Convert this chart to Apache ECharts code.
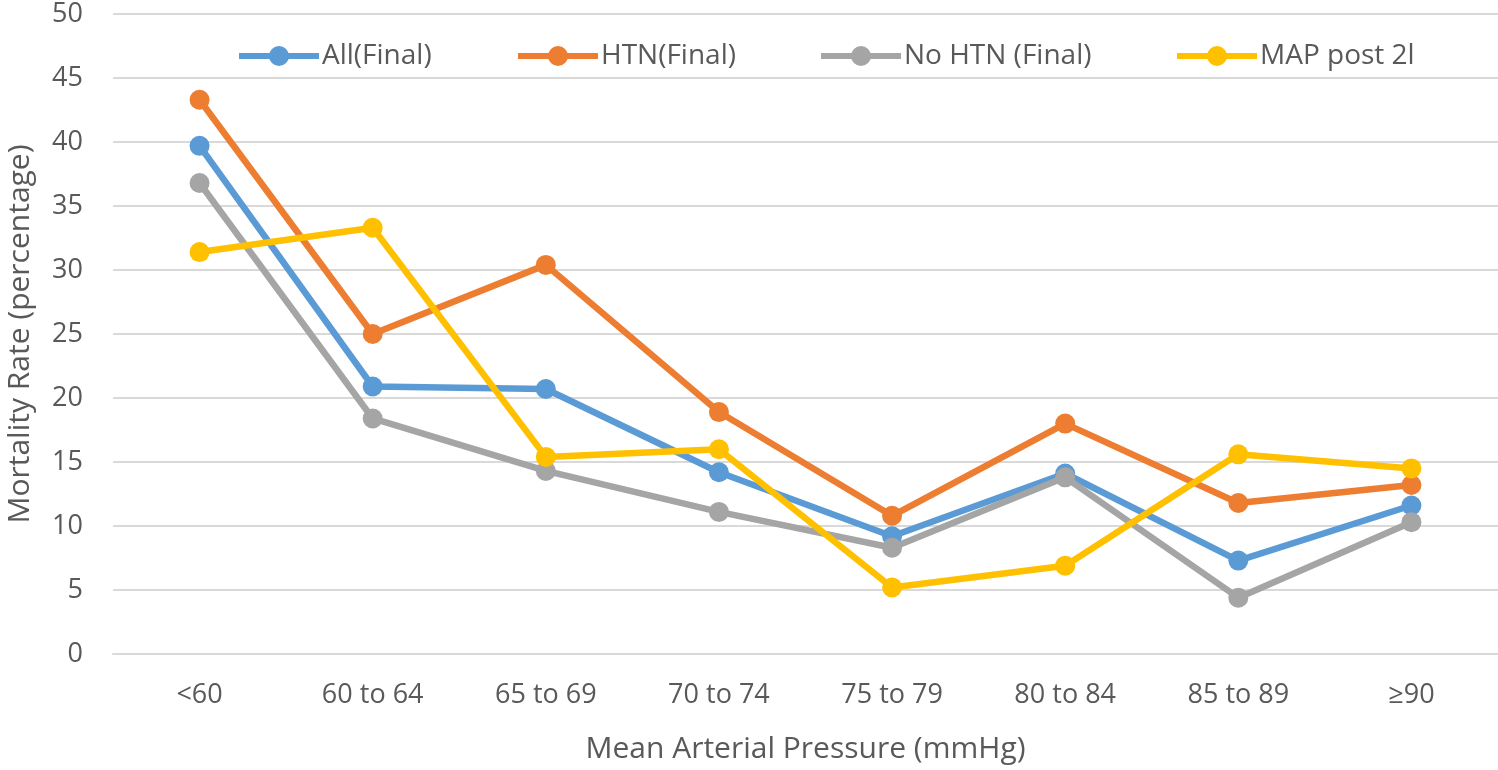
<!DOCTYPE html>
<html>
<head>
<meta charset="utf-8">
<script src="https://cdn.jsdelivr.net/npm/echarts@6/dist/echarts.min.js"></script>
<style>html,body{margin:0;padding:0;background:#fff}#c{width:1498px;height:770px}</style>
</head>
<body>
<div id="c"></div>
<script>
const categories = ['<60', '60 to 64', '65 to 69', '70 to 74', '75 to 79', '80 to 84', '85 to 89', '≥90'];
const allFinal = [39.7, 20.9, 20.7, 14.2, 9.2, 14.1, 7.3, 11.6];
const htnFinal = [43.3, 25.0, 30.4, 18.9, 10.8, 18.0, 11.8, 13.2];
const noHtnFinal = [36.8, 18.4, 14.3, 11.1, 8.3, 13.8, 4.4, 10.3];
const mapPost2l = [31.4, 33.3, 15.4, 16.0, 5.2, 6.9, 15.6, 14.5];
const seriesNames = ['All(Final)', 'HTN(Final)', 'No HTN (Final)', 'MAP post 2l'];
const colors = ['#5B9BD5', '#ED7D31', '#A5A5A5', '#FFC000'];
const yTicks = [0, 50, 5];

const legendLefts = [236, 515, 818, 1174];
const font = '"Open Sans", "Liberation Sans", sans-serif';
const chart = echarts.init(document.getElementById('c'));
const data = [allFinal, htnFinal, noHtnFinal, mapPost2l];
chart.setOption({
  animation: false,
  color: colors,
  textStyle: { fontFamily: font },
  grid: { left: 113, right: 0, top: 14, bottom: 116, containLabel: false, outerBoundsMode: 'none' },
  legend: seriesNames.map((n, i) => ({
    top: 42,
    left: legendLefts[i],
    padding: 0,
    itemWidth: 80,
    itemHeight: 25,
    itemGap: 0,
    lineStyle: { width: 6 },
    textStyle: { fontSize: 28, color: '#595959', fontFamily: font, padding: [0, 0, 0, -2] },
    data: [n]
  })),
  xAxis: {
    type: 'category',
    data: categories,
    boundaryGap: true,
    axisLine: { show: true, lineStyle: { color: '#D9D9D9', width: 2 } },
    axisTick: { show: false },
    axisLabel: { fontSize: 27, color: '#595959', margin: 28, fontFamily: font },
    name: 'Mean Arterial Pressure (mmHg)',
    nameLocation: 'middle',
    nameGap: 80,
    nameTextStyle: { fontSize: 30, color: '#595959', fontFamily: font }
  },
  yAxis: {
    type: 'value',
    min: yTicks[0],
    max: yTicks[1],
    interval: yTicks[2],
    axisLine: { show: false },
    axisTick: { show: false },
    splitLine: { lineStyle: { color: '#D9D9D9', width: 2 } },
    axisLabel: { fontSize: 27, color: '#595959', margin: 30, fontFamily: font },
    name: 'Mortality Rate (percentage)',
    nameLocation: 'middle',
    nameGap: 78,
    nameTextStyle: { fontSize: 30, color: '#595959', fontFamily: font }
  },
  series: seriesNames.map((n, i) => ({
    name: n,
    type: 'line',
    data: data[i],
    symbol: 'circle',
    symbolSize: 20,
    lineStyle: { width: 6.5, color: colors[i] },
    itemStyle: { color: colors[i] },
    z: 2 + i
  }))
});
</script>
</body>
</html>
